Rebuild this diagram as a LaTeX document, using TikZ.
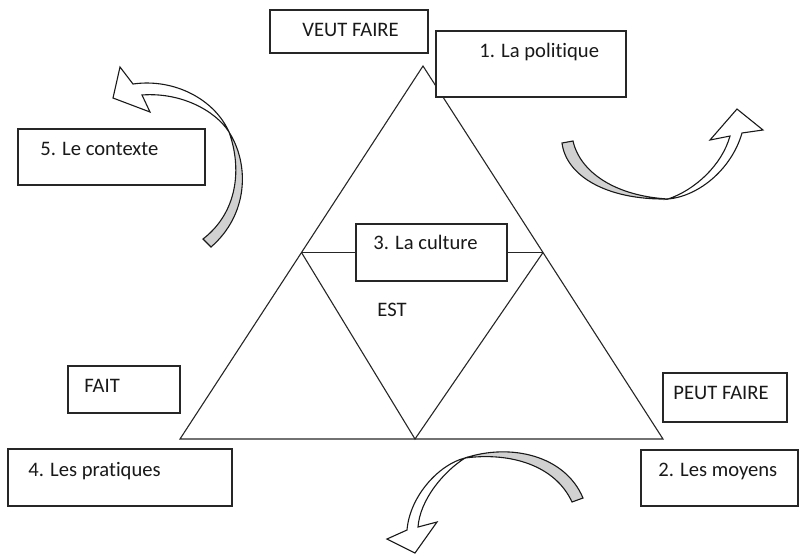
\documentclass[tikz,border=0pt]{standalone}
\usepackage{fontspec}
\setmainfont{Carlito}[Ligatures=NoCommon]
\usetikzlibrary{positioning, calc, fit}

\begin{document}
\begin{tikzpicture}[
  x=0.5pt, y=-0.5pt,
  box/.style={draw=black!85, line width=0.7pt, fill=white, inner sep=0pt},
  txt/.style={anchor=base west, inner sep=0pt, font=\fontsize{10.3}{12}\selectfont, text=black!90},
  tri/.style={draw=black!85, line width=0.55pt, line join=miter},
  face/.style={draw=black!90, line width=0.55pt, fill=white, line join=miter},
  back/.style={draw=black!90, line width=0.55pt, fill=black!18, line join=miter},
]
\useasboundingbox (0,0) rectangle (799,554);

% ---------- Triangle ----------
\coordinate (apex) at (423,66);
\coordinate (bl) at (180,439);
\coordinate (br) at (663,439);
\coordinate (bm) at (415,439);
\coordinate (ml) at ($(apex)!0.5!(bl)$);
\coordinate (mr) at ($(apex)!0.5!(br)$);

\draw[tri] (apex) -- (bl) -- (br) -- cycle;
\draw[tri] (ml) -- (bm) -- (mr);
\draw[tri] (ml) -- (mr);

% ---------- Curved arrows ----------
% around the context
\path[back] (229,132) .. controls (250,165) and (248,215) .. (211,247)
  -- (203,239) .. controls (238,212) and (242,168) .. (229,132) -- cycle;
\path[face] (133,84) -- (120,67) -- (113,98) -- (150,112) -- (142,95)
  .. controls (180,92) and (215,110) .. (229,132)
  .. controls (215,100) and (175,78) .. (133,84) -- cycle;

% right of the triangle
\path[back] (562,143) .. controls (566,175) and (605,200) .. (668,199)
  .. controls (615,196) and (580,172) .. (573,141) -- cycle;
\path[face] (668,199) .. controls (700,196) and (732,168) .. (742,133)
  -- (763,130) -- (737,109) -- (710,140) -- (730,136)
  .. controls (722,165) and (695,190) .. (668,199) -- cycle;

% under the triangle
\path[back] (583,498) .. controls (565,455) and (510,443) .. (465,458)
  .. controls (510,452) and (555,465) .. (572,502) -- cycle;
\path[face] (465,458) .. controls (440,464) and (410,495) .. (407,530)
  -- (387,539) -- (415,553) -- (437,522) -- (418,527)
  .. controls (420,500) and (443,472) .. (465,458) -- cycle;

% ---------- Boxes ----------
\node[box, fit={(270,10) (428,53)}] (veut) {};
\node[box, fit={(436,31) (626,97)}] (politique) {};
\node[box, fit={(18,129) (205,185)}] (contexte) {};
\node[box, fit={(356,224) (507,281)}] (culture) {};
\node[box, fit={(68,366) (180,413)}] (fait) {};
\node[box, fit={(8,449) (232,506)}] (pratiques) {};
\node[box, fit={(663,373) (787,422)}] (peut) {};
\node[box, fit={(641,450) (798,506)}] (moyens) {};

% ---------- Texts ----------
\node[txt] (veut-t) at (302,36) {VEUT FAIRE};
\node[txt] (politique-t) at (479,57) {1. La politique};
\node[txt] (contexte-t) at (40,155) {5. Le contexte};
\node[txt] (culture-t) at (373,249) {3. La culture};
\node[txt] (est-t) at (377,316) {EST};
\node[txt] (fait-t) at (84,392) {FAIT};
\node[txt] (pratiques-t) at (28,476) {4. Les pratiques};
\node[txt] (peut-t) at (673,399) {PEUT FAIRE};
\node[txt] (moyens-t) at (658,476) {2. Les moyens};

\end{tikzpicture}
\end{document}
